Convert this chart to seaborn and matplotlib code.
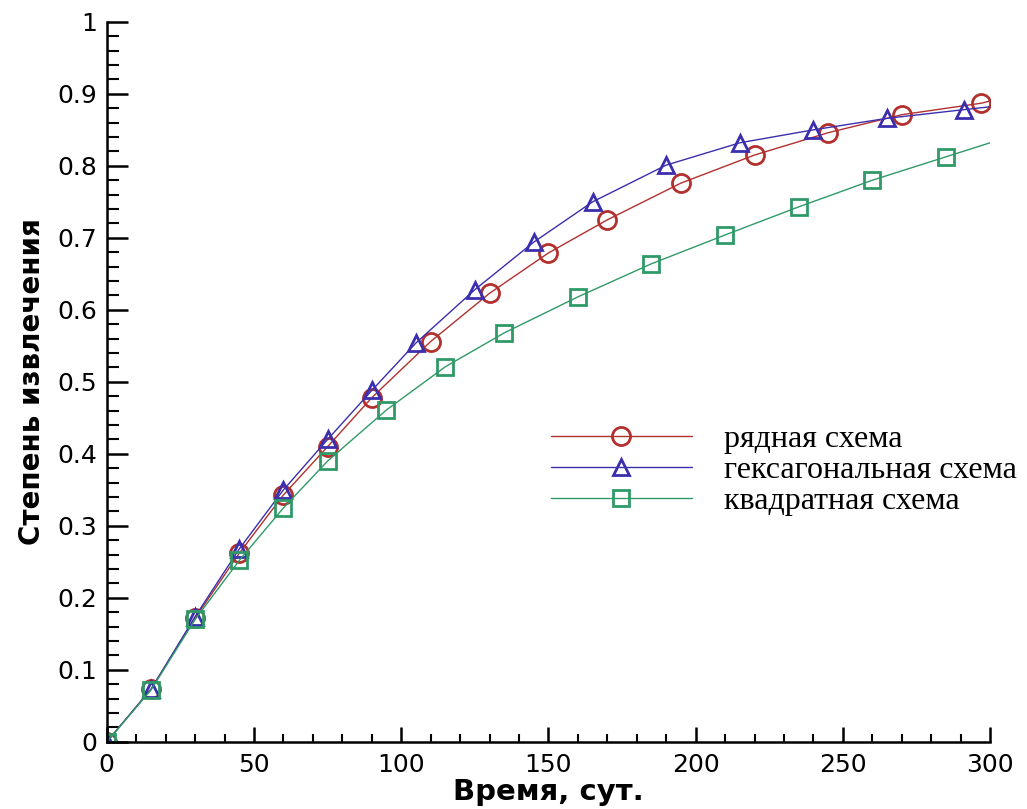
import seaborn as sns
import matplotlib.pyplot as plt
from matplotlib.ticker import MultipleLocator

# Время, сут. и степень извлечения для трёх схем (последняя точка - конец линии без маркера)
t_row = [0, 15, 30, 45, 60, 75, 90, 110, 130, 150, 170, 195, 220, 245, 270, 297, 300]
y_row = [0, 0.073, 0.172, 0.262, 0.343, 0.41, 0.478, 0.556, 0.623, 0.679, 0.725,
         0.776, 0.815, 0.846, 0.871, 0.887, 0.89]

t_hex = [0, 15, 30, 45, 60, 75, 90, 105, 125, 145, 165, 190, 215, 240, 265, 291, 300]
y_hex = [0, 0.073, 0.174, 0.268, 0.35, 0.42, 0.488, 0.554, 0.628, 0.694, 0.75,
         0.801, 0.832, 0.85, 0.866, 0.878, 0.882]

t_sq = [0, 15, 30, 45, 60, 75, 95, 115, 135, 160, 185, 210, 235, 260, 285, 300]
y_sq = [0, 0.072, 0.17, 0.252, 0.325, 0.39, 0.461, 0.521, 0.568, 0.618, 0.664,
        0.704, 0.743, 0.78, 0.8125, 0.832]

labels = ["рядная схема", "гексагональная схема", "квадратная схема"]
colors = ["#b2302e", "#3b2fae", "#2f9a68"]
markers = ["o", "^", "s"]
sizes = [13, 12, 11.5]

sns.set_style("ticks")
plt.rcParams['font.family'] = ['DejaVu Sans']
plt.rcParams.update({"text.color": "black", "axes.labelcolor": "black",
                     "xtick.color": "black", "ytick.color": "black"})

fig = plt.figure(figsize=(10.27, 8.09), dpi=100)
ax = fig.add_axes([0.104, 0.083, 0.86, 0.89])

series = [(t_row, y_row), (t_hex, y_hex), (t_sq, y_sq)]
for (t, y), lab, c, m, s in zip(series, labels, colors, markers, sizes):
    sns.lineplot(x=t, y=y, ax=ax, color=c, linewidth=1.0, marker=m,
                 markersize=s, markerfacecolor="none", markeredgecolor=c,
                 markeredgewidth=2, markevery=list(range(len(t) - 1)),
                 label=lab, sort=False)

ax.set_xlim(0, 300)
ax.set_ylim(0, 1)
ax.xaxis.set_major_locator(MultipleLocator(50))
ax.xaxis.set_minor_locator(MultipleLocator(10))
ax.yaxis.set_minor_locator(MultipleLocator(0.02))
ax.set_yticks([0, 0.1, 0.2, 0.3, 0.4, 0.5, 0.6, 0.7, 0.8, 0.9, 1.0])
ax.set_yticklabels(["0", "0.1", "0.2", "0.3", "0.4", "0.5", "0.6", "0.7", "0.8", "0.9", "1"])

sns.despine(ax=ax)
for sp in ["left", "bottom"]:
    ax.spines[sp].set_linewidth(1.8)
    ax.spines[sp].set_color("black")

ax.tick_params(axis="y", which="major", direction="in", length=15, width=1.8,
               labelsize=18, pad=7)
ax.tick_params(axis="y", which="minor", direction="in", length=8.5, width=1.5)
ax.tick_params(axis="x", which="major", direction="in", length=11, width=1.8,
               labelsize=18, pad=8)
ax.tick_params(axis="x", which="minor", direction="in", length=6, width=1.5)

ax.set_xlabel("Время, сут.", fontsize=21, fontweight="bold", labelpad=1)
ax.set_ylabel("Степень извлечения", fontsize=20, fontweight="bold", labelpad=8)

ax.legend(loc="center left", bbox_to_anchor=(0.503, 0.377), frameon=False,
          handlelength=4.4, handletextpad=1.0, labelspacing=0.05,
          borderaxespad=0, borderpad=0,
          prop={"family": ["Liberation Serif", "DejaVu Serif"], "size": 23})

fig.savefig("out.png", dpi=100)
